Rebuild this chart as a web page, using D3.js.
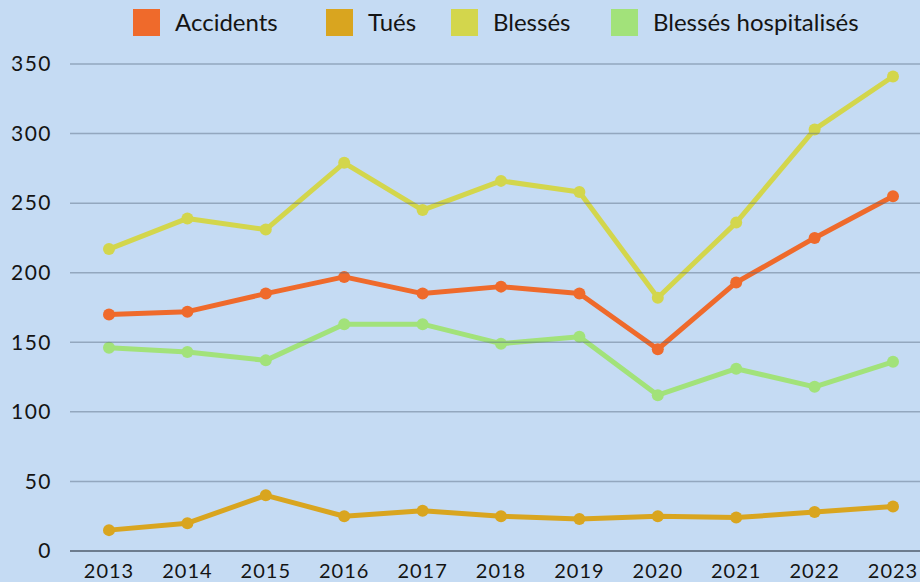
<!DOCTYPE html>
<html>
<head>
<meta charset="utf-8">
<script src="https://cdn.jsdelivr.net/npm/d3@7"></script>
<style>
  html, body { margin: 0; padding: 0; background: #c5dbf3; }
  svg { display: block; }
  text { font-family: "Lato", "Noto Sans", sans-serif; fill: #141414; }
</style>
</head>
<body>
<svg id="chart" width="920" height="582"></svg>
<script>
const years = ["2013","2014","2015","2016","2017","2018","2019","2020","2021","2022","2023"];
const accidents = [170, 172, 185, 197, 185, 190, 185, 145, 193, 225, 255];
const tues = [15, 20, 40, 25, 29, 25, 23, 25, 24, 28, 32];
const blesses = [217, 239, 231, 279, 245, 266, 258, 182, 236, 303, 341];
const hospitalises = [146, 143, 137, 163, 163, 149, 154, 112, 131, 118, 136];
const seriesNames = ["Accidents", "Tués", "Blessés", "Blessés hospitalisés"];
const seriesColors = ["#ef6a2b", "#d9a51f", "#d3d64c", "#a2e27a"];
const yTicks = [0, 50, 100, 150, 200, 250, 300, 350];

const series = [accidents, tues, blesses, hospitalises].map((values, i) => ({
  name: seriesNames[i], color: seriesColors[i], values
}));

const svg = d3.select("#chart");
const W = 920, H = 582;
const plot = { left: 70, right: 920, top: 64, bottom: 551 };

const x = d3.scalePoint().domain(years).range([109, 893]);
const y = d3.scaleLinear().domain([0, 350]).range([plot.bottom, plot.top]);

// background
svg.append("rect").attr("width", W).attr("height", H).attr("fill", "#c5dbf3");

// y tick labels
svg.append("g").selectAll("text").data(yTicks).join("text")
  .attr("x", 52).attr("y", d => y(d))
  .attr("dy", "0.35em")
  .attr("text-anchor", "end")
  .attr("font-size", 21)
  .attr("letter-spacing", 1.5)
  .text(d => d);

// x tick labels
svg.append("g").selectAll("text").data(years).join("text")
  .attr("x", d => x(d)).attr("y", 578)
  .attr("text-anchor", "middle")
  .attr("font-size", 20)
  .attr("letter-spacing", 1)
  .text(d => d);

// series lines and markers
const line = d3.line().x((d, i) => x(years[i])).y(d => y(d));
const gSeries = svg.append("g");
series.forEach(s => {
  gSeries.append("path")
    .attr("d", line(s.values))
    .attr("fill", "none")
    .attr("stroke", s.color)
    .attr("stroke-width", 5)
    .attr("stroke-linejoin", "round");
  gSeries.append("g").selectAll("circle").data(s.values).join("circle")
    .attr("cx", (d, i) => x(years[i]))
    .attr("cy", d => y(d))
    .attr("r", 6)
    .attr("fill", s.color);
});

// horizontal gridlines, drawn over the series
svg.append("g").selectAll("line").data(yTicks.filter(d => d > 0)).join("line")
  .attr("x1", plot.left).attr("x2", plot.right)
  .attr("y1", d => y(d)).attr("y2", d => y(d))
  .attr("stroke", "#56687e")
  .attr("stroke-opacity", 0.45)
  .attr("stroke-width", 1.5);

// baseline
svg.append("line")
  .attr("x1", plot.left).attr("x2", plot.right)
  .attr("y1", y(0)).attr("y2", y(0))
  .attr("stroke", "#6d7c8e")
  .attr("stroke-width", 2);

// legend
const legendX = [133, 326, 451, 611];
const legend = svg.append("g").selectAll("g").data(series).join("g")
  .attr("transform", (d, i) => `translate(${legendX[i]},9)`);
legend.append("rect")
  .attr("width", 27).attr("height", 27)
  .attr("fill", d => d.color);
legend.append("text")
  .attr("x", 42).attr("y", 13.5)
  .attr("dy", "0.35em")
  .attr("font-size", 24)
  .text(d => d.name);
</script>
</body>
</html>
